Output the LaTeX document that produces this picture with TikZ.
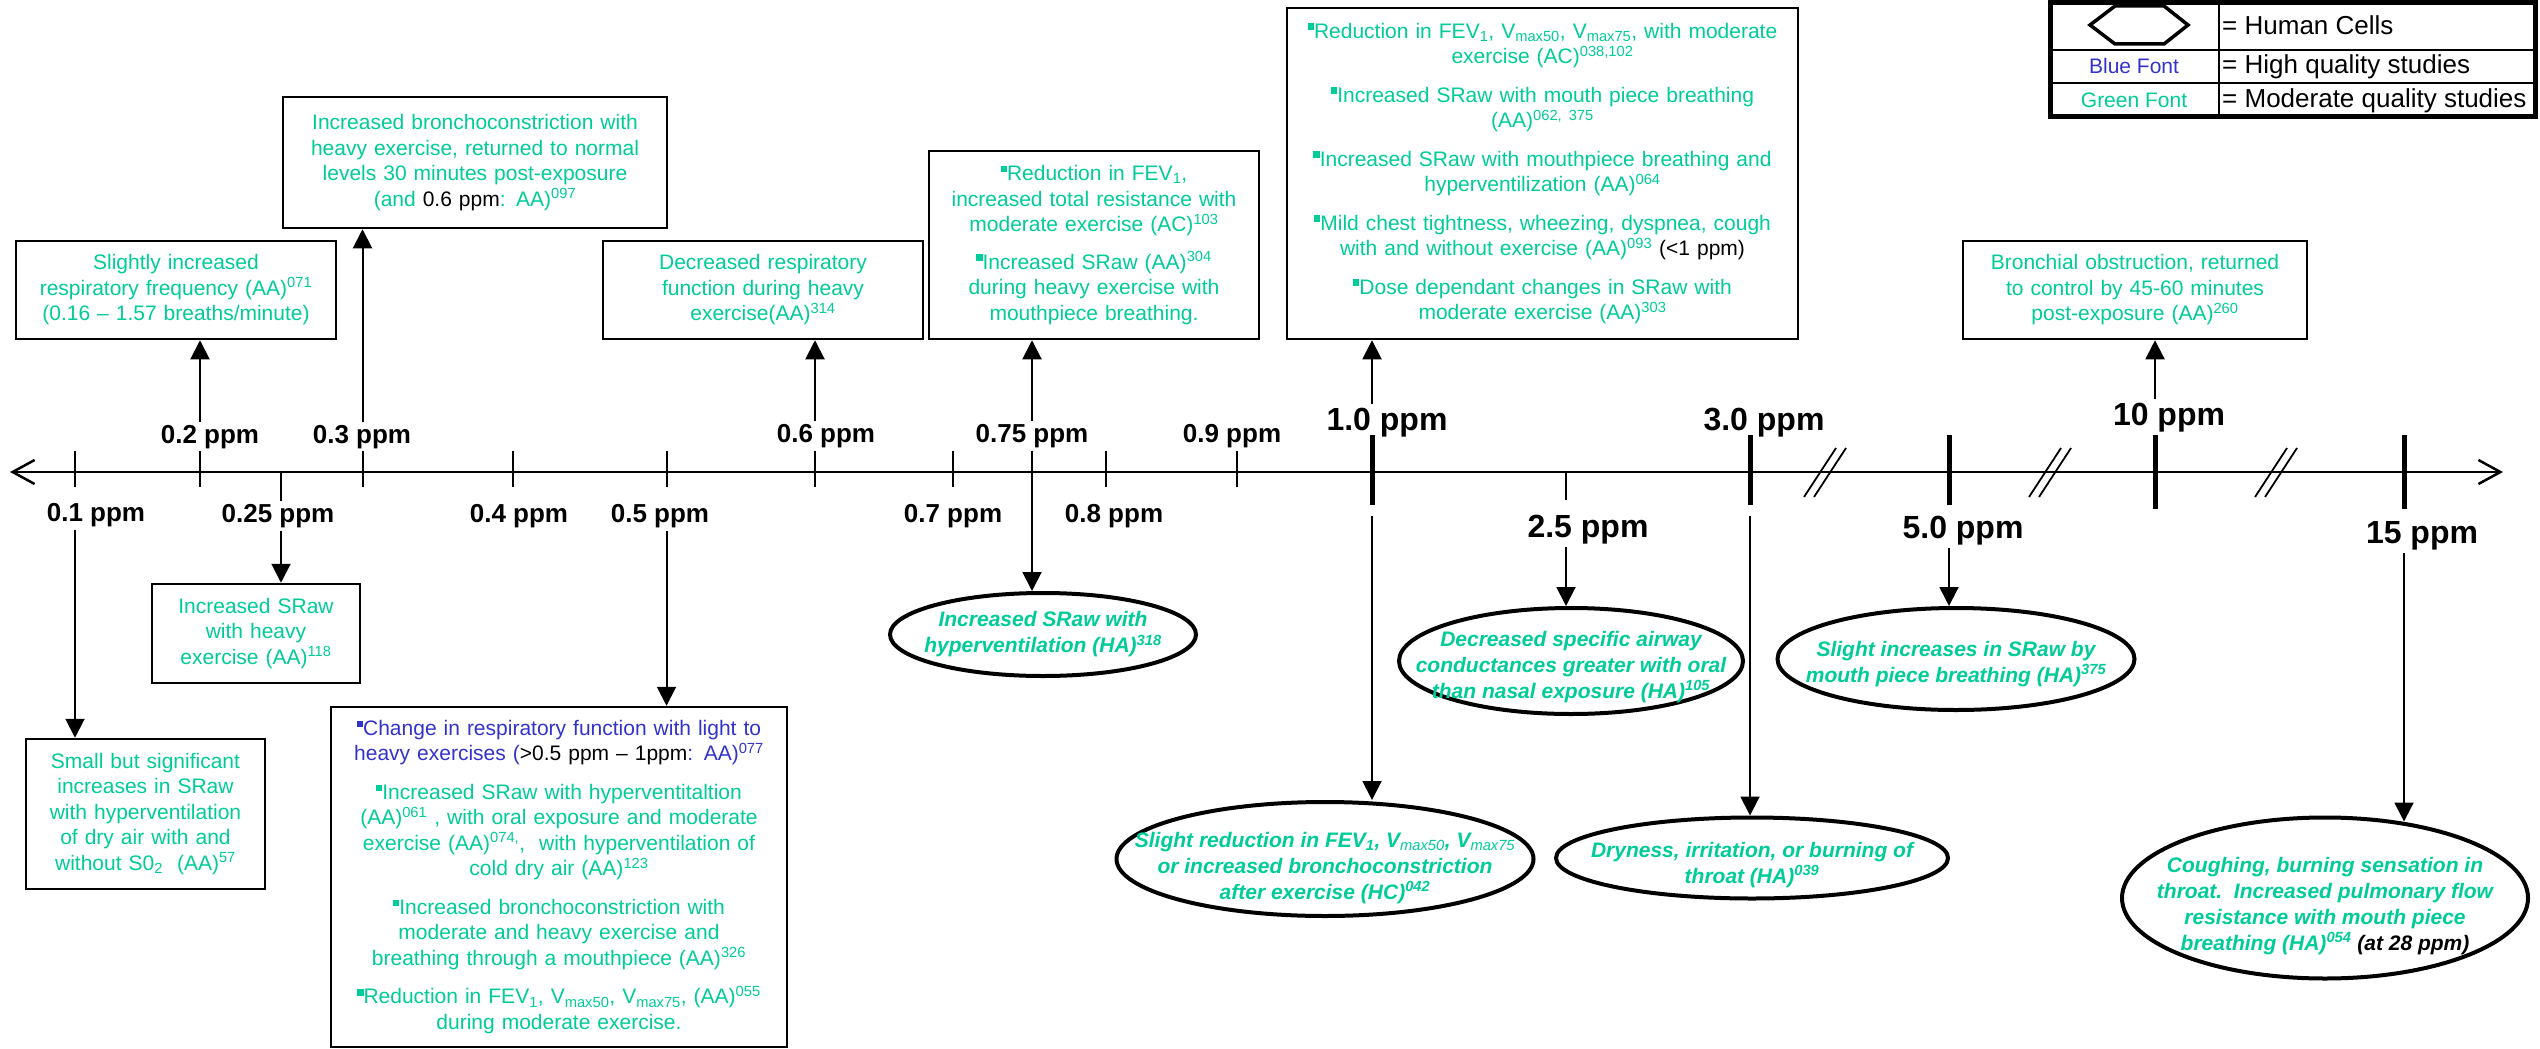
\documentclass[tikz,border=0pt]{standalone}
\usepackage{fontspec}
\setmainfont{Liberation Sans}
\usetikzlibrary{arrows.meta,shapes.geometric}
\definecolor{modgreen}{HTML}{00CC99}
\definecolor{highblue}{HTML}{3333CC}
% small square bullet, superscript reference, subscript
\newcommand{\bul}{\rule[0.4em]{0.3em}{0.3em}}
\newcommand{\rf}[1]{\textsuperscript{#1}}
\newcommand{\sbs}[1]{\textsubscript{#1}}
\tikzset{
  box/.style={draw, line width=2.5pt, align=center, inner xsep=3pt, inner ysep=0pt,
    text=modgreen, font=\fontsize{21}{25.5}\selectfont},
  oval/.style={draw, ellipse, line width=4pt, inner sep=0pt},
  ovaltext/.style={align=center, inner sep=0pt, text=modgreen,
    font=\fontsize{21}{26}\selectfont\bfseries\itshape},
  conn/.style={line width=2pt, arrows={-Triangle[length=19pt,width=19pt]}},
  axisline/.style={line width=2.5pt,
    arrows={Straight Barb[length=22pt,width=24pt]-Straight Barb[length=22pt,width=24pt]}},
  smalltick/.style={line width=2pt},
  bigtick/.style={line width=5pt},
  lab/.style={font=\fontsize{26}{30}\selectfont\bfseries, inner sep=3pt, anchor=base},
  biglab/.style={lab, font=\fontsize{32}{36}\selectfont\bfseries},
  legtext/.style={font=\fontsize{26}{30}\selectfont, inner sep=0pt, anchor=base west},
  legkey/.style={font=\fontsize{21}{25}\selectfont, inner sep=0pt, anchor=base},
}
\begin{document}
\begin{tikzpicture}[x=1pt,y=-1pt]
\fill[white] (0,0) rectangle (2540,1049);
\useasboundingbox (0,0) rectangle (2540,1049);

% ---------- concentration axis ----------
\coordinate (axL) at (10,472);
\coordinate (axR) at (2503,472);
\draw[axisline] (axL) -- (axR);

\foreach \n/\x in {01/75, 02/200, 025/281, 03/362.5, 04/512.5, 05/666.5, 06/815,
  07/953, 075/1032, 08/1106, 09/1237, 1/1372, 25/1566, 3/1750, 5/1949, 10/2155, 15/2404}
  \coordinate (t\n) at (\x,472);

\foreach \n in {01,02,03,04,05,06,07,08,09}
  \draw[smalltick] (t\n) ++(0,-21) -- ++(0,36);
\foreach \n in {1,3,5}
  \draw[bigtick] (t\n) ++(0,-37) -- ++(0,70);
\foreach \n in {10,15}
  \draw[bigtick] (t\n) ++(0,-37) -- ++(0,74);
\draw[smalltick] (t25) -- ++(0,28);

% axis break marks
\foreach \bx in {1825,2050,2276}
  \foreach \o in {-5,5}
    \draw[line width=1.8pt] (\bx+\o-16,497) -- (\bx+\o+16,448);

% ---------- labels ----------
\node[lab] (l01) at (96,521) {0.1 ppm};
\node[lab] (l02) at (210,443) {0.2 ppm};
\node[lab] (l025) at (278,522) {0.25 ppm};
\node[lab] (l03) at (362,443) {0.3 ppm};
\node[lab] (l04) at (519,522) {0.4 ppm};
\node[lab] (l05) at (660,522) {0.5 ppm};
\node[lab] (l06) at (826,442) {0.6 ppm};
\node[lab] (l07) at (953,522) {0.7 ppm};
\node[lab] (l075) at (1032,442) {0.75 ppm};
\node[lab] (l08) at (1114,522) {0.8 ppm};
\node[lab] (l09) at (1232,442) {0.9 ppm};
\node[biglab] (l1) at (1387,430) {1.0 ppm};
\node[biglab] (l3) at (1764,430) {3.0 ppm};
\node[biglab] (l10) at (2169,425) {10 ppm};
\node[biglab] (l25) at (1588,537) {2.5 ppm};
\node[biglab] (l5) at (1963,538) {5.0 ppm};
\node[biglab] (l15) at (2422,543) {15 ppm};
\draw[smalltick] (t025) -- (l025.north -| t025);

% ---------- study boxes above the axis ----------
\node[box, text width=314pt, minimum height=98pt] (bA) at (176,290)
  {Slightly increased\\respiratory frequency (AA)\rf{071}\\(0.16 – 1.57 breaths/minute)};
\node[box, text width=378pt, minimum height=131pt] (bB) at (475,162.5)
  {Increased bronchoconstriction with\\heavy exercise, returned to normal\\levels 30 minutes post-exposure\\(and \textcolor{black}{0.6 ppm}: AA)\rf{097}};
\node[box, text width=314pt, minimum height=98pt] (bC) at (763,290)
  {Decreased respiratory\\function during heavy\\exercise(AA)\rf{314}};
\node[box, text width=324pt, minimum height=188pt] (bD) at (1094,245)
  {\bul Reduction in FEV\sbs{1},\\increased total resistance with\\moderate exercise (AC)\rf{103}\\[12pt]
   \bul Increased SRaw (AA)\rf{304}\\during heavy exercise with\\mouthpiece breathing.};
\node[box, text width=505pt, minimum height=331pt] (bE) at (1542.5,173.5)
  {\bul Reduction in FEV\sbs{1}, V\sbs{max50}, V\sbs{max75}, with moderate\\exercise (AC)\rf{038,102}\\[13pt]
   \bul Increased SRaw with mouth piece breathing\\(AA)\rf{062, 375}\\[13pt]
   \bul Increased SRaw with mouthpiece breathing and\\hyperventilization (AA)\rf{064}\\[13pt]
   \bul Mild chest tightness, wheezing, dyspnea, cough\\with and without exercise (AA)\rf{093} \textcolor{black}{(<1 ppm)}\\[13pt]
   \bul Dose dependant changes in SRaw with\\moderate exercise (AA)\rf{303}};
\node[box, text width=338pt, minimum height=98pt] (bF) at (2135,290)
  {Bronchial obstruction, returned\\to control by 45-60 minutes\\post-exposure (AA)\rf{260}};

% ---------- study boxes below the axis ----------
\node[box, text width=202pt, minimum height=99pt] (bG) at (256,633.5)
  {Increased SRaw\\with heavy\\exercise (AA)\rf{118}};
\node[box, text width=233pt, minimum height=150pt] (bH) at (145.5,814)
  {Small but significant\\increases in SRaw\\with hyperventilation\\of dry air with and\\without S0\sbs{2}\ \ (AA)\rf{57}};
\node[box, text width=450pt, minimum height=340pt] (bI) at (559,877)
  {\color{highblue}\bul Change in respiratory function with light to\\heavy exercises (\textcolor{black}{>0.5 ppm – 1ppm}: AA)\rf{077}\\[13pt]
   \color{modgreen}\bul Increased SRaw with hyperventitaltion\\(AA)\rf{061} , with oral exposure and moderate\\exercise (AA)\rf{074,},\ \ with hyperventilation of\\cold dry air (AA)\rf{123}\\[13pt]
   \bul Increased bronchoconstriction with\\moderate and heavy exercise and\\breathing through a mouthpiece (AA)\rf{326}\\[13pt]
   \bul Reduction in FEV\sbs{1}, V\sbs{max50}, V\sbs{max75}, (AA)\rf{055}\\during moderate exercise.};

% ---------- human study ovals ----------
\node[oval, minimum width=306pt, minimum height=83pt] (e1) at (1043,634.5) {};
\node[ovaltext] (e1t) at (1043,634.5) {Increased SRaw with\\hyperventilation (HA)\rf{318}};
\node[oval, minimum width=344pt, minimum height=106pt] (e2) at (1571,661) {};
\node[ovaltext] (e2t) at (1571,667) {Decreased specific airway\\conductances greater with oral\\than nasal exposure (HA)\rf{105}};
\node[oval, minimum width=357pt, minimum height=102pt] (e3) at (1956,659) {};
\node[ovaltext] (e3t) at (1956,664) {Slight increases in SRaw by\\mouth piece breathing (HA)\rf{375}};
\node[oval, minimum width=417pt, minimum height=114pt] (e4) at (1325,859) {};
\node[ovaltext] (e4t) at (1325,868) {Slight reduction in FEV\sbs{1}, V\sbs{\mdseries max50}, V\sbs{\mdseries max75}\\or increased bronchoconstriction\\after exercise (HC)\rf{042}};
\node[oval, minimum width=392pt, minimum height=81pt] (e5) at (1752,858) {};
\node[ovaltext] (e5t) at (1752,865) {Dryness, irritation, or burning of\\throat (HA)\rf{039}};
\node[oval, minimum width=406pt, minimum height=161pt] (e6) at (2325,898) {};
\node[ovaltext] (e6t) at (2325,906) {Coughing, burning sensation in\\throat.\ \ Increased pulmonary flow\\resistance with mouth piece\\breathing (HA)\rf{054} \textcolor{black}{(at 28 ppm)}};

% ---------- connectors ----------
\draw[conn] (l01.south -| t01) -- (bH.north -| t01);
\draw[conn] (l02.north -| t02) -- (bA.south -| t02);
\draw[conn] (l025.south -| t025) -- (bG.north -| t025);
\draw[conn] (l03.north -| t03) -- (bB.south -| t03);
\draw[conn] (l05.south -| t05) -- (bI.north -| t05);
\draw[conn] (l06.north -| t06) -- (bC.south -| t06);
\draw[conn] (l075.north -| t075) -- (bD.south -| t075);
\draw[conn] (l075.south -| t075) -- (e1.north -| t075);
\draw[conn] (l1.north -| t1) -- (bE.south -| t1);
\draw[conn] ([yshift=-44pt]t1) -- (e4.north -| t1);
\draw[conn] (l25.south -| t25) -- (e2.north -| t25);
\draw[conn] ([yshift=-44pt]t3) -- (e5.north -| t3);
\draw[conn] (l5.south -| t5) -- (e3.north -| t5);
\draw[conn] (l10.north -| t10) -- (bF.south -| t10);
\draw[conn] (l15.south -| t15) -- ([yshift=-6pt]e6.north -| t15);

% ---------- legend ----------
\draw[line width=2.5pt] (2219,3) -- (2219,116);
\draw[line width=2.5pt] (2050,50) -- (2535,50);
\draw[line width=2.5pt] (2050,83) -- (2535,83);
\draw[line width=5pt] (2050,3) rectangle (2535,116);
\draw[line width=3.5pt, line join=miter] (2090,25) -- (2115,6) -- (2164,6) -- (2188,25) -- (2164,44) -- (2115,44) -- cycle;
\node[legtext] (lg1) at (2222,35) {= Human Cells};
\node[legkey, text=highblue] (lg2k) at (2134,74) {Blue Font};
\node[legtext] (lg2) at (2222,74) {= High quality studies};
\node[legkey, text=modgreen] (lg3k) at (2134,107) {Green Font};
\node[legtext] (lg3) at (2222,107) {= Moderate quality studies};
\end{tikzpicture}
\end{document}
